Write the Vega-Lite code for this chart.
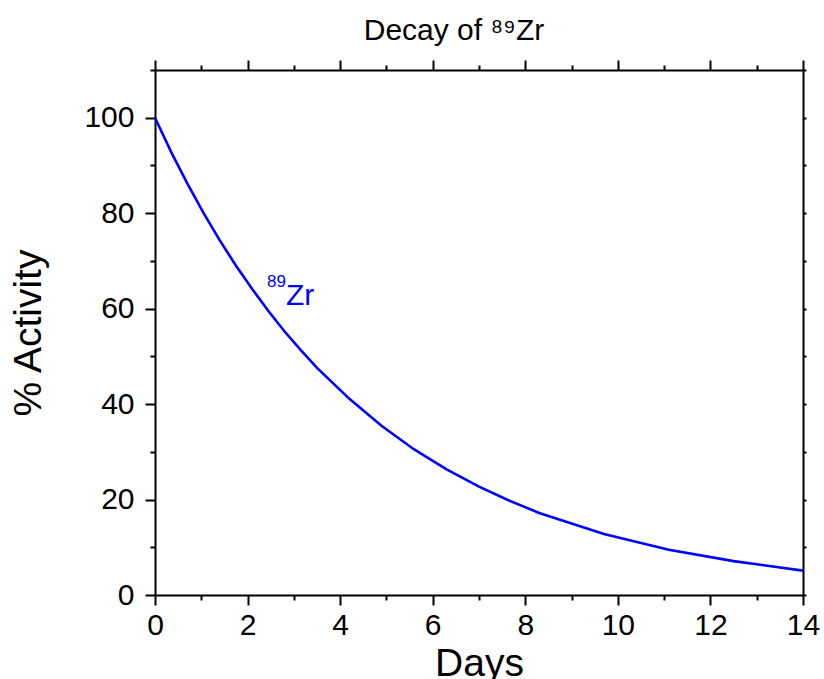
{
  "$schema": "https://vega.github.io/schema/vega-lite/v6.json",
  "width": 648,
  "height": 525,
  "autosize": "none",
  "padding": {"left": 155, "top": 70, "right": 21, "bottom": 84},
  "background": "white",
  "config": {
    "font": "Liberation Sans",
    "view": {"stroke": null},
    "axis": {
      "grid": false,
      "domainColor": "black",
      "domainWidth": 2,
      "tickColor": "black",
      "tickWidth": 2,
      "labelColor": "black",
      "titleColor": "black",
      "labelFont": "Liberation Sans",
      "titleFont": "Liberation Sans",
      "titleFontWeight": "normal",
      "labelFontSize": 30,
      "titleFontSize": 39,
      "labelOverlap": false,
      "labelFlush": false
    }
  },
  "title": {
    "text": "Decay of ⁸⁹Zr",
    "font": "Liberation Sans",
    "fontSize": 30,
    "fontWeight": "normal",
    "color": "black",
    "anchor": "middle",
    "dx": -25,
    "offset": 9
  },
  "datasets": {
    "decay": [
      {"days": 0, "activity": 100},
      {"days": 0.35, "activity": 92.8},
      {"days": 0.7, "activity": 86.2},
      {"days": 1.05, "activity": 80.0},
      {"days": 1.4, "activity": 74.3},
      {"days": 1.75, "activity": 69.0},
      {"days": 2.1, "activity": 64.1},
      {"days": 2.45, "activity": 59.5},
      {"days": 2.8, "activity": 55.2},
      {"days": 3.15, "activity": 51.3},
      {"days": 3.5, "activity": 47.6},
      {"days": 4.2, "activity": 41.1},
      {"days": 4.9, "activity": 35.4},
      {"days": 5.6, "activity": 30.5},
      {"days": 6.3, "activity": 26.3},
      {"days": 7.0, "activity": 22.7},
      {"days": 7.6, "activity": 20.0},
      {"days": 8.3, "activity": 17.2},
      {"days": 9.7, "activity": 12.8},
      {"days": 11.1, "activity": 9.5},
      {"days": 12.5, "activity": 7.1},
      {"days": 14, "activity": 5.1}
    ],
    "label": [
      {"days": 2.83, "activity": 60.7, "sup": "89", "sym": "Zr"}
    ]
  },
  "layer": [
    {
      "data": {"name": "decay"},
      "mark": {"type": "line", "color": "#0000ff", "strokeWidth": 2.6, "clip": true},
      "encoding": {
        "x": {
          "field": "days",
          "type": "quantitative",
          "scale": {"domain": [0, 14], "nice": false, "zero": false},
          "axis": {
            "orient": "bottom",
            "title": "Days",
            "values": [0,1,2,3,4,5,6,7,8,9,10,11,12,13,14],
            "labelExpr": "datum.value % 2 === 0 ? datum.label : ''",
            "tickSize": {"condition": {"test": "datum.value % 2 === 0", "value": 10}, "value": 5},
            "labelPadding": 5,
            "titlePadding": 4
          }
        },
        "y": {
          "field": "activity",
          "type": "quantitative",
          "scale": {"domain": [0, 110], "nice": false},
          "axis": {
            "orient": "left",
            "title": "% Activity",
            "values": [0,10,20,30,40,50,60,70,80,90,100,110],
            "labelExpr": "datum.value % 20 === 0 && datum.value <= 100 ? datum.label : ''",
            "tickSize": {"condition": {"test": "datum.value % 20 === 0", "value": 10}, "value": 5},
            "labelPadding": 11,
            "titlePadding": 35
          }
        }
      }
    },
    {
      "data": {"name": "label"},
      "mark": {"type": "text", "align": "left", "baseline": "alphabetic", "fontSize": 30, "color": "#0000ff", "font": "Liberation Sans"},
      "encoding": {
        "x": {
          "field": "days",
          "type": "quantitative",
          "axis": {
            "orient": "top",
            "title": null,
            "labels": false,
            "values": [0,1,2,3,4,5,6,7,8,9,10,11,12,13,14],
            "tickSize": {"condition": {"test": "datum.value % 2 === 0", "value": 10}, "value": 5}
          }
        },
        "y": {
          "field": "activity",
          "type": "quantitative",
          "axis": {
            "orient": "right",
            "title": null,
            "labels": false,
            "values": [0,10,20,30,40,50,60,70,80,90,100,110],
            "tickSize": 3
          }
        },
        "text": {"field": "sym"}
      }
    },
    {
      "data": {"name": "label"},
      "mark": {"type": "text", "align": "right", "baseline": "alphabetic", "fontSize": 17, "dy": -18, "color": "#0000ff", "font": "Liberation Sans"},
      "encoding": {
        "x": {"field": "days", "type": "quantitative", "axis": null},
        "y": {"field": "activity", "type": "quantitative", "axis": null},
        "text": {"field": "sup"}
      }
    }
  ],
  "resolve": {"axis": {"x": "independent", "y": "independent"}}
}
